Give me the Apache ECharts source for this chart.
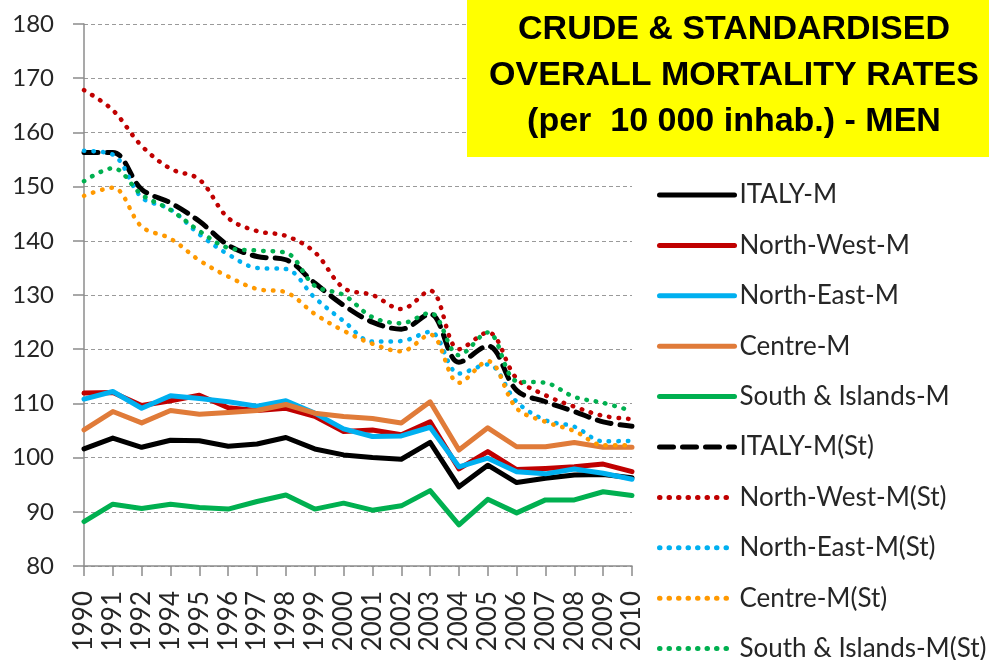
<html>
<head>
<meta charset="utf-8">
<script src="https://cdn.jsdelivr.net/npm/echarts@6/dist/echarts.min.js"></script>
</head>
<body>
<style>
  html, body, #main { width: 100%; height: 100%; margin: 0; background: #fff; }
</style>
<div id="main"></div>
<script>
// years on the axis (1993 is not in the source table)
var years = ['1990', '1991', '1992', '1994', '1995', '1996', '1997', '1998', '1999', '2000',
             '2001', '2002', '2003', '2004', '2005', '2006', '2007', '2008', '2009', '2010'];

// crude rates
var italyM     = [101.6, 103.6, 101.9, 103.2, 103.1, 102.1, 102.5, 103.7, 101.6, 100.5, 100.0, 99.7, 102.8, 94.6, 98.6, 95.4, 96.2, 96.8, 96.9, 96.3];
var northWestM = [111.9, 112.0, 109.6, 110.5, 111.5, 109.2, 108.7, 109.1, 107.6, 104.8, 105.1, 104.2, 106.6, 97.9, 101.1, 97.8, 98.0, 98.3, 98.8, 97.4];
var northEastM = [110.8, 112.2, 109.1, 111.4, 110.9, 110.3, 109.5, 110.5, 108.2, 105.3, 103.9, 104.0, 105.6, 98.3, 99.9, 97.4, 97.0, 97.9, 97.1, 96.0];
var centreM    = [105.1, 108.5, 106.4, 108.7, 108.0, 108.3, 108.7, 109.8, 108.2, 107.6, 107.2, 106.4, 110.3, 101.4, 105.5, 102.0, 102.0, 102.8, 101.9, 101.9];
var southM     = [88.2, 91.4, 90.6, 91.4, 90.8, 90.5, 91.9, 93.1, 90.5, 91.6, 90.3, 91.1, 93.9, 87.6, 92.3, 89.8, 92.2, 92.2, 93.7, 93.0];

// standardised rates
var italySt     = [156.3, 156.3, 149.5, 147.0, 143.6, 139.2, 137.1, 136.5, 132.2, 128.1, 125.0, 123.7, 126.5, 117.6, 120.6, 112.4, 110.3, 108.5, 106.6, 105.8];
var northWestSt = [167.8, 164.1, 157.5, 153.3, 151.3, 144.2, 141.8, 140.9, 137.9, 131.3, 130.0, 127.4, 130.8, 120.0, 123.1, 114.6, 111.5, 109.4, 107.7, 107.1];
var northEastSt = [156.6, 155.9, 148.0, 145.8, 141.2, 137.5, 135.0, 134.8, 129.5, 125.2, 121.4, 121.5, 123.2, 115.5, 117.2, 110.3, 106.9, 105.7, 103.0, 103.1];
var centreSt    = [148.3, 149.8, 142.6, 140.4, 136.4, 133.4, 131.1, 130.5, 126.5, 123.4, 121.0, 119.6, 122.7, 113.8, 117.8, 109.1, 106.6, 104.9, 102.3, 102.3];
var southSt     = [151.0, 153.4, 148.5, 145.7, 141.8, 138.7, 138.2, 137.8, 131.7, 130.0, 125.9, 124.8, 126.7, 118.9, 123.1, 114.1, 113.8, 111.2, 110.1, 108.6];

var titleLines = ['CRUDE & STANDARDISED', 'OVERALL MORTALITY RATES', '(per  10 000 inhab.) - MEN'];

var chart = echarts.init(document.getElementById('main'));

function crude(name, data, color) {
    return {
        name: name, type: 'line', data: data,
        symbol: 'none', smooth: false,
        lineStyle: { color: color, width: 5, cap: 'round', join: 'round' },
        itemStyle: { color: color }
    };
}

function standard(name, data, color, dash, width) {
    return {
        name: name, type: 'line', data: data,
        symbol: 'none', smooth: 0.35,
        lineStyle: { color: color, width: width, type: dash, cap: 'round' },
        itemStyle: { color: color }
    };
}

var dots = [0.5, 9];

var option = {
    backgroundColor: '#fff',
    animation: false,
    grid: { left: 84, right: 357, top: 24, bottom: 94, outerBoundsMode: 'none', containLabel: false },
    legend: {
        orient: 'vertical',
        left: 657,
        top: 182,
        height: 500,
        padding: 0,
        itemWidth: 75,
        itemHeight: 14,
        itemGap: 24.4,
        itemStyle: { opacity: 0 },
        lineStyle: { width: 5 },
        textStyle: { fontFamily: 'Lato', fontSize: 26, color: '#262626' }
    },
    xAxis: {
        type: 'category',
        data: years,
        boundaryGap: false,
        axisLine: { lineStyle: { color: '#8c8c8c', width: 1.5 } },
        axisTick: { alignWithLabel: true, length: 10, lineStyle: { color: '#8c8c8c', width: 1.5 } },
        axisLabel: { rotate: 90, interval: 0, margin: 25, fontFamily: 'Lato', fontSize: 26, color: '#262626' },
        splitLine: { show: false }
    },
    yAxis: {
        type: 'value',
        min: 80, max: 180, interval: 10,
        axisLine: { show: true, lineStyle: { color: '#8c8c8c', width: 1.5 } },
        axisTick: { show: true, length: 11, lineStyle: { color: '#8c8c8c', width: 1.5 } },
        axisLabel: { margin: 30, fontFamily: 'Lato', fontSize: 24, color: '#262626' },
        splitLine: { lineStyle: { color: '#9a9a9a', width: 1, type: [4, 3] } }
    },
    graphic: [{
        type: 'rect',
        shape: { x: 467, y: 0, width: 522, height: 157 },
        style: { fill: '#ffff00' },
        z: 100
    }, {
        type: 'text',
        x: 734, y: 76,
        z: 101,
        style: {
            text: titleLines.join('\n'),
            fill: '#000',
            fontFamily: 'Liberation Sans',
            fontWeight: 'bold',
            fontSize: 34,
            lineHeight: 46,
            align: 'center',
            verticalAlign: 'middle'
        }
    }],
    series: [
        crude('ITALY-M', italyM, '#000000'),
        crude('North-West-M', northWestM, '#c00000'),
        crude('North-East-M', northEastM, '#00b0f0'),
        crude('Centre-M', centreM, '#e07b39'),
        crude('South & Islands-M', southM, '#00b050'),
        standard('ITALY-M(St)', italySt, '#000000', [14, 9], 5),
        standard('North-West-M(St)', northWestSt, '#c00000', dots, 4.5),
        standard('North-East-M(St)', northEastSt, '#00b0f0', dots, 4.5),
        standard('Centre-M(St)', centreSt, '#ff9900', dots, 4.5),
        standard('South & Islands-M(St)', southSt, '#00b050', dots, 4.5)
    ]
};

chart.setOption(option);
</script>
</body>
</html>
